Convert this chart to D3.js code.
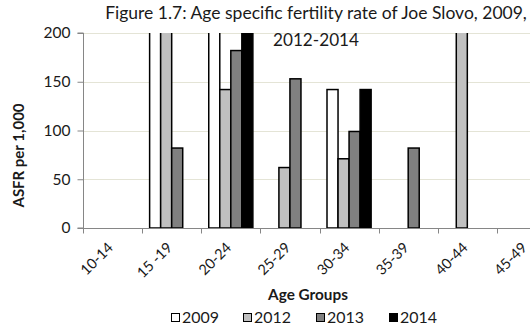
<!DOCTYPE html>
<html>
<head>
<meta charset="utf-8">
<script src="https://cdn.jsdelivr.net/npm/d3@7"></script>
<style>
  html, body { margin: 0; padding: 0; background: #fff; }
  svg { display: block; overflow: hidden; }
  text { font-family: Lato, "Open Sans", sans-serif; fill: #1a1a1a; }
</style>
</head>
<body>
<svg id="chart" width="530" height="326"></svg>
<script>
// Age groups along the x axis
const ageGroups = ["10-14", "15 -19", "20-24", "25-29", "30-34", "35-39", "40-44", "45-49"];
// Survey years, one bar per year inside each age group
const years = ["2009", "2012", "2013", "2014"];
// ASFR per 1,000 women, by year (values above 200 run off the top of the axis)
const asfr2009 = [0, 240, 250, 0, 142, 0, 0, 0];
const asfr2012 = [0, 286, 142, 62, 71, 0, 333, 0];
const asfr2013 = [0, 82, 182, 153, 99, 82, 0, 0];
const asfr2014 = [0, 0, 214, 0, 142, 0, 0, 0];
// Y axis tick values
const yTicks = [0, 50, 100, 150, 200];

const seriesValues = [asfr2009, asfr2012, asfr2013, asfr2014];
const yearFill = { "2009": "#ffffff", "2012": "#c0c0c0", "2013": "#808080", "2014": "#000000" };

const svg = d3.select("#chart");
const plot = { left: 83, right: 556, top: 33, bottom: 228 };

// Size a text element so that its drawn length equals the given width
function fitWidth(sel, width) {
  sel.each(function () {
    const base = parseFloat(getComputedStyle(this).fontSize);
    const len = this.getComputedTextLength();
    if (len > 0) d3.select(this).style("font-size", (base * width / len).toFixed(2) + "px");
  });
}

const x0 = d3.scaleBand().domain(ageGroups).range([plot.left, plot.right]).padding(0);
const x1 = d3.scaleBand().domain(years).range([0, x0.bandwidth()]).paddingInner(0).paddingOuter(0.68);
const y = d3.scaleLinear().domain([0, 200]).range([plot.bottom, plot.top]);

// Clip bars to the plot area
svg.append("defs").append("clipPath").attr("id", "plotClip")
  .append("rect")
  .attr("x", plot.left).attr("y", plot.top)
  .attr("width", plot.right - plot.left).attr("height", plot.bottom - plot.top);

// Horizontal gridlines
svg.append("g")
  .selectAll("line")
  .data(yTicks.filter(d => d > 0))
  .join("line")
  .attr("x1", plot.left).attr("x2", plot.right)
  .attr("y1", d => Math.round(y(d)) + 0.5).attr("y2", d => Math.round(y(d)) + 0.5)
  .attr("stroke", "#e4e4d6").attr("stroke-width", 1);

// Bars
const rows = ageGroups.map((g, i) => ({ group: g, values: years.map((yr, j) => ({ year: yr, value: seriesValues[j][i] })) }));
svg.append("g").attr("clip-path", "url(#plotClip)")
  .selectAll("g")
  .data(rows)
  .join("g")
  .attr("transform", d => `translate(${x0(d.group)},0)`)
  .selectAll("rect")
  .data(d => d.values.filter(v => v.value > 0))
  .join("rect")
  .attr("x", d => x1(d.year))
  .attr("y", d => y(d.value))
  .attr("width", x1.bandwidth())
  .attr("height", d => y(0) - y(d.value))
  .attr("fill", d => yearFill[d.year])
  .attr("stroke", "#000").attr("stroke-width", 1.5);

// Y axis
const yAxis = d3.axisLeft(y).tickValues(yTicks).tickSize(6).tickPadding(7);
const gy = svg.append("g").attr("transform", `translate(${plot.left + 0.5},0)`).call(yAxis);
gy.select(".domain").attr("stroke", "#868686").attr("d", `M-6,${y(200)}H0V${y(0)}H-6`);
gy.selectAll(".tick line").attr("stroke", "#868686");
gy.selectAll(".tick text").style("font-size", "15.5px").attr("fill", "#1a1a1a").style("font-family", "Lato, 'Open Sans', sans-serif");

// X axis with ticks at category boundaries
const gx = svg.append("g").attr("transform", `translate(0,${plot.bottom + 0.5})`);
gx.append("line").attr("x1", plot.left).attr("x2", plot.right).attr("stroke", "#868686");
gx.selectAll(".bound")
  .data(ageGroups)
  .join("line")
  .attr("class", "bound")
  .attr("x1", d => Math.round(x0(d)) + 0.5).attr("x2", d => Math.round(x0(d)) + 0.5)
  .attr("y1", 0).attr("y2", 5)
  .attr("stroke", "#868686");
gx.selectAll(".lbl")
  .data(ageGroups)
  .join("text")
  .attr("class", "lbl")
  .attr("text-anchor", "end")
  .attr("transform", d => `translate(${x0(d) + x0.bandwidth() / 2 + 1.5},${20}) rotate(-45)`)
  .style("font-size", "14.5px")
  .text(d => d);

// Axis titles
const yTitle = svg.append("text")
  .attr("transform", `translate(24,${(103 + 208) / 2}) rotate(-90)`)
  .attr("text-anchor", "middle")
  .style("font-size", "13px").style("font-weight", "bold")
  .text("ASFR per 1,000");
fitWidth(yTitle, 104);

const xTitle = svg.append("text")
  .attr("x", 308).attr("y", 300)
  .attr("text-anchor", "middle")
  .style("font-size", "13px").style("font-weight", "bold")
  .text("Age Groups");
fitWidth(xTitle, 80);

// Title (two centred lines)
const title1 = svg.append("text").attr("x", 316).attr("y", 19).attr("text-anchor", "middle")
  .style("font-size", "15px")
  .text("Figure 1.7: Age specific fertility rate of Joe Slovo, 2009,");
fitWidth(title1, 422);
const title2 = svg.append("text").attr("x", 316).attr("y", 46).attr("text-anchor", "middle")
  .style("font-size", "15px")
  .text("2012-2014");
fitWidth(title2, 86);

// Legend
const legendX = [171, 243, 316, 389];
const legend = svg.append("g")
  .selectAll("g")
  .data(years)
  .join("g")
  .attr("transform", (d, i) => `translate(${legendX[i]},313)`);
legend.append("rect")
  .attr("x", 0.5).attr("y", 0.5).attr("width", 8).attr("height", 8)
  .attr("fill", d => yearFill[d]).attr("stroke", "#000").attr("stroke-width", 1);
legend.append("text")
  .attr("x", 11).attr("y", 10)
  .style("font-size", "14px")
  .text(d => d)
  .call(fitWidth, 37);
</script>
</body>
</html>
